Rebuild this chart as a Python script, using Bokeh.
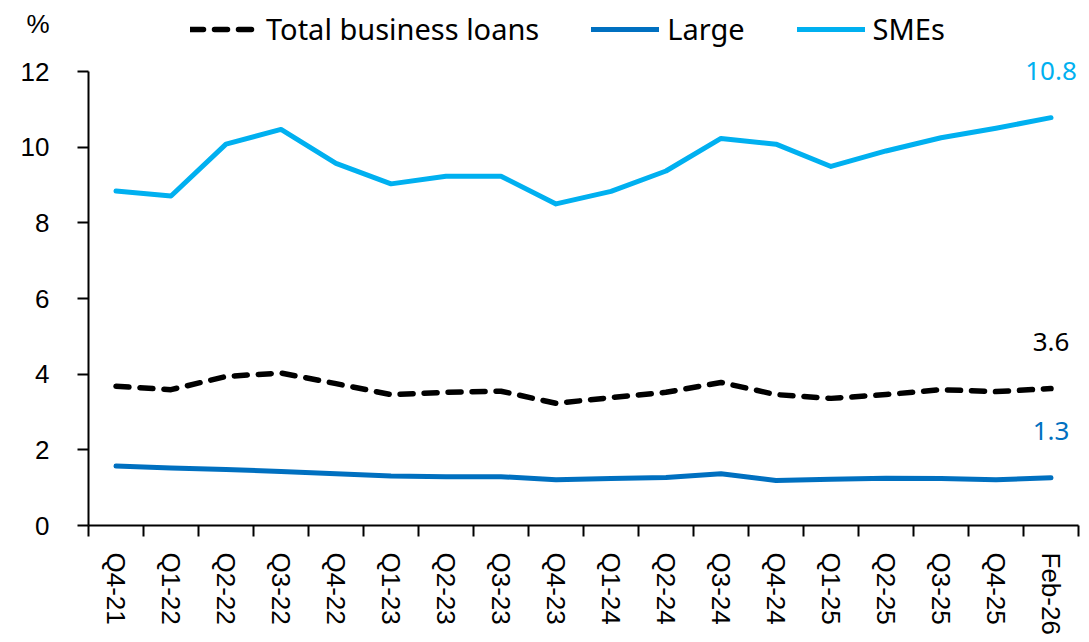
from bokeh.plotting import figure
from bokeh.models import (ColumnDataSource, Range1d, FixedTicker, Legend, LegendItem, Label,
                          LinearAxis)
from bokeh.embed import file_html
from bokeh.resources import INLINE

# Business loan growth, % year on year
periods = ["Q4-21", "Q1-22", "Q2-22", "Q3-22", "Q4-22", "Q1-23", "Q2-23", "Q3-23", "Q4-23",
           "Q1-24", "Q2-24", "Q3-24", "Q4-24", "Q1-25", "Q2-25", "Q3-25", "Q4-25", "Feb-26"]
total_loans = [3.68, 3.59, 3.94, 4.03, 3.75, 3.46, 3.52, 3.55, 3.23,
               3.38, 3.52, 3.78, 3.46, 3.36, 3.46, 3.59, 3.54, 3.62]
large = [1.57, 1.52, 1.48, 1.43, 1.37, 1.31, 1.29, 1.29, 1.21,
         1.24, 1.27, 1.37, 1.19, 1.22, 1.25, 1.24, 1.21, 1.26]
smes = [8.84, 8.71, 10.08, 10.47, 9.57, 9.03, 9.23, 9.23, 8.50,
        8.83, 9.37, 10.23, 10.08, 9.49, 9.90, 10.25, 10.50, 10.78]
y_ticks = [0, 2, 4, 6, 8, 10, 12]
unit_label = "%"

SME_COLOR = "#00B0F0"
LARGE_COLOR = "#0070C0"
TEXT_FONT = "Noto Sans"
TICK_FONT = "Liberation Sans"

W, H = 1089, 642
BORDER_LEFT, BORDER_RIGHT, BORDER_BOTTOM = 88, 11, 117
AXIS_TOP_PX = 71  # canvas row of the top value tick

# the frame runs to the top of the canvas so that the legend and end labels stay visible;
# the value axis itself is bounded to the tick range
frame_h = H - BORDER_BOTTOM
y_max = y_ticks[-1]
y_top = y_max * frame_h / (frame_h - AXIS_TOP_PX)
unit_pos = y_max + (AXIS_TOP_PX - 23) * y_max / (frame_h - AXIS_TOP_PX)

# categories sit at the centres of unit-wide slots
xs = [i + 0.5 for i in range(len(periods))]
src = ColumnDataSource(dict(x=xs, total=total_loans, large=large, smes=smes))

p = figure(width=W, height=H, output_backend="svg", toolbar_location=None,
           x_range=Range1d(0, len(periods)), y_range=Range1d(0, y_top),
           min_border_left=BORDER_LEFT, min_border_right=BORDER_RIGHT,
           min_border_top=0, min_border_bottom=BORDER_BOTTOM)
p.outline_line_color = None
p.grid.visible = False
p.background_fill_color = "white"
p.border_fill_color = "white"

r_total = p.line("x", "total", source=src, line_color="black", line_width=5.5,
                 line_dash="13 11", line_cap="round", line_join="round")
r_large = p.line("x", "large", source=src, line_color=LARGE_COLOR, line_width=5,
                 line_cap="round", line_join="round")
r_smes = p.line("x", "smes", source=src, line_color=SME_COLOR, line_width=5,
                line_cap="round", line_join="round")

# x axis: labels at slot centres, tick marks at slot boundaries
xa = p.xaxis[0]
xa.ticker = FixedTicker(ticks=xs, minor_ticks=list(range(len(periods) + 1)))
xa.major_label_overrides = {x: lab for x, lab in zip(xs, periods)}
xa.major_label_orientation = "vertical"
xa.major_tick_out = 0
xa.major_tick_in = 0
xa.minor_tick_out = 11
xa.minor_tick_in = 0
xa.minor_tick_line_color = "black"
xa.minor_tick_line_width = 2
xa.axis_line_color = "black"
xa.axis_line_width = 2
xa.major_label_standoff = 16
xa.major_label_text_font = TICK_FONT
xa.major_label_text_font_size = "26px"
xa.major_label_text_color = "black"

# value axis, inner part: line and tick marks only
ya = p.yaxis[0]
ya.ticker = FixedTicker(ticks=y_ticks)
ya.bounds = (y_ticks[0], y_ticks[-1])
ya.minor_tick_line_color = None
ya.major_tick_out = 11
ya.major_tick_in = 0
ya.major_tick_line_width = 2
ya.major_tick_line_color = "black"
ya.axis_line_color = "black"
ya.axis_line_width = 2
ya.major_label_standoff = 0
ya.major_label_overrides = {t: "" for t in y_ticks}
ya.major_label_text_font_size = "1px"

# value axis, outer part: tick labels plus the unit on top
ya_labels = LinearAxis(ticker=FixedTicker(ticks=y_ticks + [unit_pos]),
                       major_label_overrides={unit_pos: unit_label},
                       axis_line_color=None, major_tick_line_color=None,
                       minor_tick_line_color=None, major_tick_out=0, major_tick_in=0,
                       major_label_standoff=28, major_label_text_font=TICK_FONT,
                       major_label_text_font_size="26px", major_label_text_color="black")
p.add_layout(ya_labels, "left")

# latest values
for series, color in ((smes, SME_COLOR), (total_loans, "black"), (large, LARGE_COLOR)):
    p.add_layout(Label(x=xs[-1], y=series[-1], y_offset=47, text=f"{series[-1]:.1f}",
                       text_font=TEXT_FONT, text_font_size="26px", text_color=color,
                       text_align="center", text_baseline="middle"))

legend = Legend(items=[LegendItem(label="Total business loans", renderers=[r_total]),
                       LegendItem(label="Large", renderers=[r_large]),
                       LegendItem(label="SMEs", renderers=[r_smes])],
                orientation="horizontal", location=(102, frame_h - 48),
                glyph_width=68, glyph_height=30, label_height=30, label_standoff=8,
                spacing=52, padding=0, margin=0,
                label_text_font=TEXT_FONT, label_text_font_size="29px",
                label_text_color="black", border_line_color=None,
                background_fill_alpha=0)
p.add_layout(legend, "center")

open("out.html", "w").write(file_html(p, INLINE))
